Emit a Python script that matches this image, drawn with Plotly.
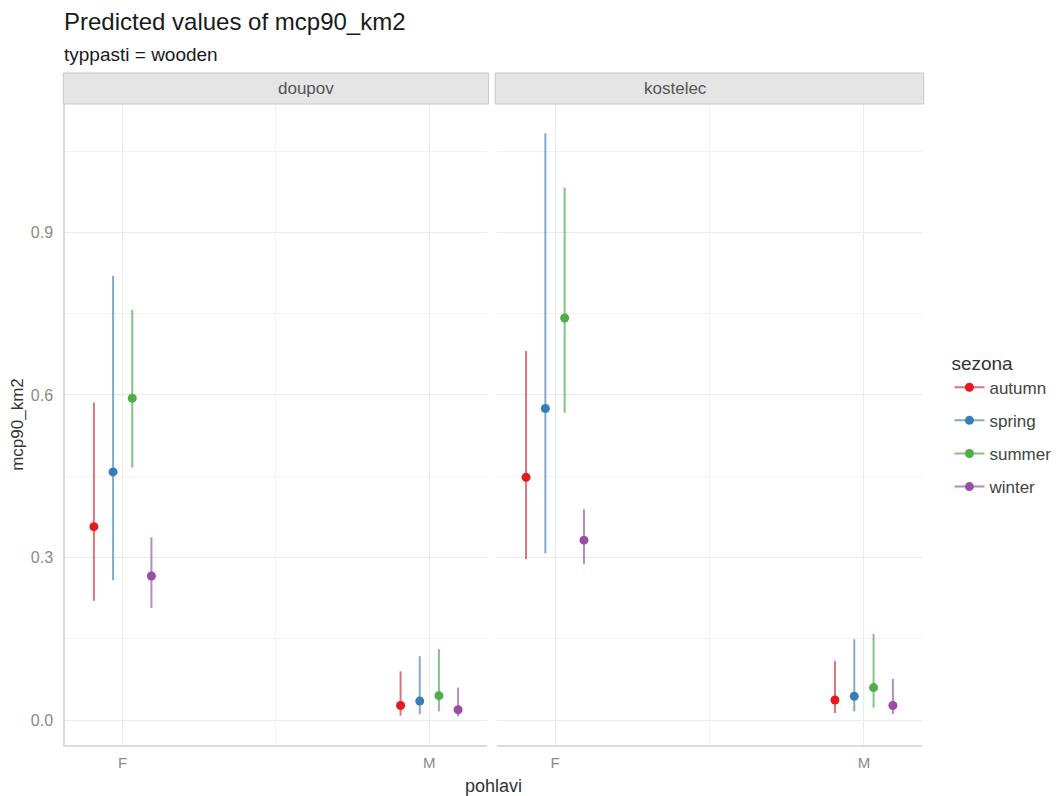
import plotly.graph_objects as go

seasons = ["autumn", "spring", "summer", "winter"]
colors = ["#E41A1C", "#377EB8", "#4DAF4A", "#984EA3"]
line_colors = ["rgba(200,60,70,0.7)", "rgba(90,140,190,0.75)", "rgba(90,175,90,0.75)", "rgba(150,90,170,0.7)"]
sexes = ["F", "M"]
facets = ["doupov", "kostelec"]

# predicted values [facet][season] -> (F, M)
pred = {
    "doupov": {
        "autumn": [0.357, 0.027],
        "spring": [0.458, 0.035],
        "summer": [0.594, 0.045],
        "winter": [0.266, 0.019],
    },
    "kostelec": {
        "autumn": [0.448, 0.037],
        "spring": [0.575, 0.044],
        "summer": [0.742, 0.060],
        "winter": [0.332, 0.027],
    },
}
ci_low = {
    "doupov": {
        "autumn": [0.220, 0.008],
        "spring": [0.258, 0.011],
        "summer": [0.466, 0.016],
        "winter": [0.207, 0.007],
    },
    "kostelec": {
        "autumn": [0.297, 0.013],
        "spring": [0.308, 0.016],
        "summer": [0.567, 0.023],
        "winter": [0.288, 0.011],
    },
}
ci_high = {
    "doupov": {
        "autumn": [0.586, 0.090],
        "spring": [0.820, 0.118],
        "summer": [0.757, 0.131],
        "winter": [0.337, 0.060],
    },
    "kostelec": {
        "autumn": [0.681, 0.109],
        "spring": [1.083, 0.149],
        "summer": [0.983, 0.159],
        "winter": [0.389, 0.076],
    },
}

dodge = [-0.09375, -0.03125, 0.03125, 0.09375]

fig = go.Figure()
for fi, facet in enumerate(facets):
    xa = "x" if fi == 0 else "x2"
    for si, s in enumerate(seasons):
        xs, ys, up, dn = [], [], [], []
        for ki, sex in enumerate(sexes):
            if ki > 0:
                xs.append(None); ys.append(None); up.append(None); dn.append(None)
            v = pred[facet][s][ki]
            xs.append(ki + 1 + dodge[si])
            ys.append(v)
            up.append(ci_high[facet][s][ki] - v)
            dn.append(v - ci_low[facet][s][ki])
        fig.add_trace(go.Scatter(
            x=xs, y=ys, xaxis=xa, yaxis="y",
            mode="lines+markers", connectgaps=False,
            name=s, legendgroup=s, showlegend=(fi == 0),
            marker=dict(color=colors[si], size=9),
            line=dict(color=line_colors[si], width=2),
            error_y=dict(type="data", symmetric=False, array=up, arrayminus=dn,
                         color=line_colors[si], thickness=2, width=0),
        ))

FONT = "Liberation Sans, Arial"
grid_major = "#ebebeb"
grid_minor = "#f3f3f3"
xcommon = dict(
    range=[0.812, 2.188], tickvals=[1, 2], ticktext=sexes,
    showgrid=True, gridcolor=grid_major, gridwidth=1.3, zeroline=False,
    minor=dict(tickvals=[1.5], showgrid=True, gridcolor=grid_minor, gridwidth=0.8),
    tickfont=dict(family=FONT, size=15, color="#8a8a8a"),
    ticks="", showline=True, linecolor="#dcdcdc", linewidth=1.5,
    ticklabelstandoff=3, automargin=False,
)
# page body has an 8px margin; compensate so the plot area lands at x 65-922, y 104-745
fig.update_layout(
    width=1055, height=788,
    paper_bgcolor="white", plot_bgcolor="white",
    margin=dict(l=57, r=141, t=96, b=51, autoexpand=False),
    font=dict(family=FONT, color="#333333"),
    xaxis=dict(domain=[0, 0.4924], anchor="y", **xcommon),
    xaxis2=dict(domain=[0.504, 1], anchor="y", **xcommon),
    yaxis=dict(
        range=[-0.046, 1.137], tickvals=[0, 0.3, 0.6, 0.9],
        ticktext=["0.0", "0.3", "0.6", "0.9"],
        showgrid=True, gridcolor=grid_major, gridwidth=1.3, zeroline=False,
        minor=dict(tickvals=[0.15, 0.45, 0.75, 1.05], showgrid=True,
                   gridcolor=grid_minor, gridwidth=0.8),
        tickfont=dict(family=FONT, size=16, color="#8a8a8a"),
        ticks="", showline=True, linecolor="#dcdcdc", linewidth=1.5,
        ticklabelstandoff=7, automargin=False,
        title=dict(text="mcp90_km2", font=dict(size=17, color="#333333"), standoff=4),
    ),
    legend=dict(
        title=dict(text="sezona", font=dict(size=19, color="#333333")),
        x=1.032, xanchor="left", y=0.624, yanchor="top",
        font=dict(size=17, color="#444444"), tracegroupgap=8,
        itemwidth=30,
    ),
)

# title and subtitle
fig.add_annotation(xref="paper", yref="paper", x=-0.003, xanchor="left",
                   y=1 + 82 / 641, yanchor="middle", showarrow=False,
                   text="Predicted values of mcp90_km2",
                   font=dict(size=24, color="#1a1a1a"))
fig.add_annotation(xref="paper", yref="paper", x=-0.003, xanchor="left",
                   y=1 + 49 / 641, yanchor="middle", showarrow=False,
                   text="typpasti = wooden",
                   font=dict(size=19, color="#1a1a1a"))

# facet strips
strip_h = 31 / 641
for fi, (d0, d1) in enumerate([(0, 0.4924), (0.504, 1)]):
    fig.add_shape(type="rect", xref="paper", yref="paper",
                  x0=d0 - 0.002, x1=d1 + 0.002, y0=1.0, y1=1.0 + strip_h,
                  fillcolor="#e5e5e5", line=dict(color="#c8c8c8", width=1))
    fig.add_annotation(xref="paper", yref="paper", x=(d0 + d1) / 2,
                       y=1.0 + strip_h / 2, yanchor="middle",
                       text=facets[fi], showarrow=False,
                       font=dict(size=17, color="#555555"))

fig.add_annotation(xref="paper", yref="paper", x=0.5, y=-41 / 641, yanchor="middle",
                   text="pohlavi", showarrow=False,
                   font=dict(size=18, color="#333333"))

fig.write_html("out.html")
